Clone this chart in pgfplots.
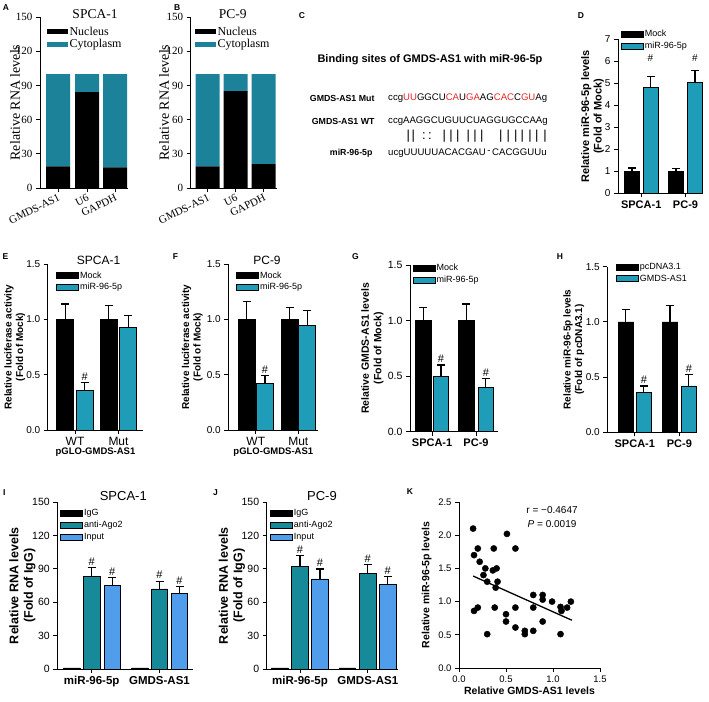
\documentclass[border=0pt]{standalone}
\usepackage{fontspec}
\setmainfont{Liberation Sans}
\newfontfamily\tnr{Liberation Serif}
\usepackage{pgfplots}
\pgfplotsset{compat=1.18}
\definecolor{cyto}{HTML}{1B8299}
\definecolor{mirc}{HTML}{1F9CB8}
\definecolor{agoc}{HTML}{178A9A}
\definecolor{inpc}{HTML}{4F9DEB}
\definecolor{mutred}{HTML}{E8262A}
\newcommand{\fsz}[1]{\fontsize{#1}{#1}\selectfont}
\newcommand{\rd}[1]{\textcolor{mutred}{#1}}
\pgfplotsset{
  panel/.style={scale only axis, anchor=south west, axis lines*=left, clip=false,
    enlargelimits=false, xmin=0, ymin=0,
    axis line style={line width=1pt, black},
    tick style={line width=1pt, black}, tick align=outside,
    major tick length=4pt,
    /pgf/number format/assume math mode=true,
    legend cell align=left},
  ydec/.style={yticklabel style={/pgf/number format/fixed, /pgf/number format/fixed zerofill, /pgf/number format/precision=1}},
  xdec/.style={xticklabel style={/pgf/number format/fixed, /pgf/number format/fixed zerofill, /pgf/number format/precision=1}},
  patch/.style={legend image code/.code={\draw[##1, line width=0.6pt] (0pt,-3pt) rectangle (22pt,3pt);}},
  mybar/.style={ybar, bar shift=0pt, draw=black, line width=0.6pt, patch,
    /pgfplots/error bars/y dir=plus, /pgfplots/error bars/y explicit,
    /pgfplots/error bars/error bar style={line width=1.2pt, black},
    /pgfplots/error bars/error mark options={rotate=90, mark size=4pt, line width=1.2pt, black}},
  hash/.style={only marks, forget plot, black, mark=text, text mark={\#}, text mark as node=true,
    text mark style={anchor=south, inner sep=1pt, font=\fsz{11}}},
  leg/.style 2 args={legend style={at={(#1,#2)}, anchor=north west, draw=none, fill=none,
    inner sep=0pt, row sep=1.5pt, font=\fsz{9}, nodes={inner sep=1.2pt}}},
  ylab/.style 2 args={ylabel style={font=\bfseries\fontsize{#1}{#2}\selectfont, align=center}},
  ypos/.style={ylabel style={at={(axis description cs:#1,0.5)}, anchor=center}},
}
\begin{document}
\begin{tikzpicture}
\path[use as bounding box] (0pt,0pt) rectangle (709pt,-701pt);
\fill[white] (0pt,0pt) rectangle (709pt,-701pt);

% panel letters
\foreach \l/\x/\y in {A/6/7.5, B/177.3/7.5, C/302/15.5, D/581/15.5, E/5.5/257, F/175.5/257, G/355.5/257, H/560/257, I/4.3/493, J/215.5/493, K/410/492}
  \node[font=\bfseries\fsz{8.5}] at (\x pt,-\y pt) {\l};

% ---------- A ----------
\begin{axis}[panel, at={(40pt,-188pt)}, width=88pt, height=171pt, xmax=88, ymax=150,
  ytick={0,30,...,150}, xtick={18,47,75}, xticklabels={GMDS-AS1,U6,GAPDH},
  ybar stacked, bar width=24,
  tick label style={font=\tnr\fsz{11}},
  x tick label style={rotate=26, anchor=north east, inner sep=1pt},
  ylabel={Relative RNA levels}, ylabel style={font=\tnr\fsz{14}}, ypos=-0.284,
  title={SPCA-1}, title style={font=\tnr\fsz{13.5}, at={(0.625,0.98)}, anchor=center},
  legend style={at={(0.08,0.95)}, anchor=north west, draw=none, fill=none, font=\tnr\fsz{12}, inner sep=0pt, nodes={inner sep=1.3pt}},
  legend image code/.code={\fill[#1] (0pt,-2.5pt) rectangle (21pt,2.5pt);}]
\addplot[fill=black, draw=none] coordinates {(18,19) (47,84) (75,18)};
\addplot[fill=cyto, draw=none] coordinates {(18,81) (47,16) (75,82)};
\legend{Nucleus, Cytoplasm}
\end{axis}

% ---------- B ----------
\begin{axis}[panel, at={(190.7pt,-188pt)}, width=86pt, height=171pt, xmax=86, ymax=150,
  ytick={0,30,...,150}, xtick={17,45,73}, xticklabels={GMDS-AS1,U6,GAPDH},
  ybar stacked, bar width=24,
  tick label style={font=\tnr\fsz{11}},
  x tick label style={rotate=26, anchor=north east, inner sep=1pt},
  ylabel={Relative RNA levels}, ylabel style={font=\tnr\fsz{14}}, ypos=-0.31,
  title={PC-9}, title style={font=\tnr\fsz{13.5}, at={(0.49,0.98)}, anchor=center},
  legend style={at={(0.05,0.95)}, anchor=north west, draw=none, fill=none, font=\tnr\fsz{12}, inner sep=0pt, nodes={inner sep=1.3pt}},
  legend image code/.code={\fill[#1] (0pt,-2.5pt) rectangle (21pt,2.5pt);}]
\addplot[fill=black, draw=none] coordinates {(17,19) (45,85) (73,21)};
\addplot[fill=cyto, draw=none] coordinates {(17,81) (45,15) (73,79)};
\legend{Nucleus, Cytoplasm}
\end{axis}

% ---------- C ----------
\node[font=\bfseries\fsz{11}] at (430pt,-60pt) {Binding sites of GMDS-AS1 with miR-96-5p};
\node[anchor=east, font=\bfseries\fsz{8.8}] at (378pt,-98pt) {GMDS-AS1 Mut};
\node[anchor=east, font=\bfseries\fsz{8.8}] at (378pt,-121pt) {GMDS-AS1 WT};
\node[anchor=east, font=\bfseries\fsz{8.8}] at (376pt,-153pt) {miR-96-5p};
\node[anchor=west, font=\fsz{9.6}, inner sep=0pt] at (388pt,-98pt) {ccg\rd{UU}GGCU\rd{CA}U\rd{GA}AG\rd{CAC}C\rd{GU}Ag};
\node[anchor=west, font=\fsz{9.6}, inner sep=0pt] at (388pt,-121pt) {ccgAAGGCUGUUCUAGGUGCCAAg};
\node[anchor=west, font=\fsz{9.6}, inner sep=0pt] at (388pt,-153pt) {ucgUUUUUACACGAU\,\raisebox{1.5pt}{-}\,CACGGUUu};
\foreach \x/\c in {408.3/|, 413.3/|, 424/:, 430/:, 444.3/|, 451/|, 457.7/|, 468.3/|, 475/|, 481.7/|, 500.7/|, 508.3/|, 515.7/|, 522.3/|, 530/|, 536.7/|, 545/|}
  \node[font=\fsz{13}, inner sep=0pt] at (\x pt,-136pt) {\c};

% ---------- D ----------
\begin{axis}[panel, at={(618pt,-193.3pt)}, width=85pt, height=154pt, xmax=85, ymax=7,
  ytick={0,...,7}, xtick={23.2,67.5}, xticklabels={SPCA-1,PC-9}, bar width=15,
  tick label style={font=\fsz{10}}, x tick label style={font=\bfseries\fsz{11}},
  ylabel={Relative miR-96-5p levels\\(Fold of Mock)}, ylab={11}{12.5}, ypos=-0.30, leg={0.035}{1.07}]
\addplot[mybar, fill=black] coordinates {(14,1.0) +- (0,0.15) (58,1.0) +- (0,0.12)};
\addplot[mybar, fill=mirc] coordinates {(32.5,4.8) +- (0,0.5) (77,5.05) +- (0,0.55)};
\addplot[hash, text mark style={anchor=base}] coordinates {(32.5,5.97) (77,5.97)};
\legend{Mock, miR-96-5p}
\end{axis}

% ---------- E ----------
\begin{axis}[panel, ydec, at={(47.7pt,-430pt)}, width=95.6pt, height=165.7pt, xmax=95.6, ymax=1.5,
  ytick={0,0.5,1,1.5}, xtick={27.3,70.8}, xticklabels={WT,Mut}, bar width=17,
  tick label style={font=\fsz{10}}, x tick label style={font=\fsz{12}},
  xlabel={pGLO-GMDS-AS1}, xlabel style={font=\bfseries\fsz{9.5}, inner sep=0pt, yshift=2pt},
  ylabel={Relative luciferase activity\\(Fold of Mock)}, ylab={10}{11.5}, ypos=-0.345,
  title={SPCA-1}, title style={font=\fsz{12}, at={(0.533,0.99)}, anchor=center},
  leg={0.087}{0.965}]
\addplot[mybar, fill=black] coordinates {(17.5,1.0) +- (0,0.14) (61,1.0) +- (0,0.13)};
\addplot[mybar, fill=mirc] coordinates {(37,0.36) +- (0,0.07) (80.5,0.93) +- (0,0.11)};
\addplot[hash] coordinates {(37,0.44)};
\legend{Mock, miR-96-5p}
\end{axis}

% ---------- F ----------
\begin{axis}[panel, ydec, at={(228.3pt,-430pt)}, width=90pt, height=165.7pt, xmax=90, ymax=1.5,
  ytick={0,0.5,1,1.5}, xtick={27.5,70}, xticklabels={WT,Mut}, bar width=17,
  tick label style={font=\fsz{10}}, x tick label style={font=\fsz{12}},
  xlabel={pGLO-GMDS-AS1}, xlabel style={font=\bfseries\fsz{9.5}, inner sep=0pt, yshift=2pt},
  ylabel={Relative luciferase activity\\(Fold of Mock)}, ylab={10}{11.5}, ypos=-0.40,
  title={PC-9}, title style={font=\fsz{12}, at={(0.43,0.99)}, anchor=center},
  leg={0.086}{0.965}]
\addplot[mybar, fill=black] coordinates {(18.4,1.0) +- (0,0.16) (61.2,1.0) +- (0,0.11)};
\addplot[mybar, fill=mirc] coordinates {(36.7,0.42) +- (0,0.07) (78.8,0.95) +- (0,0.13)};
\addplot[hash] coordinates {(36.7,0.50)};
\legend{Mock, miR-96-5p}
\end{axis}

% ---------- G ----------
\begin{axis}[panel, ydec, at={(410pt,-431.7pt)}, width=88.3pt, height=166.7pt, xmax=88.3, ymax=1.5,
  ytick={0,0.5,1,1.5}, xtick={22.1,66}, xticklabels={SPCA-1,PC-9}, bar width=15.5,
  tick label style={font=\fsz{10.5}}, x tick label style={font=\bfseries\fsz{11}},
  ylabel={Relative GMDS-AS1 levels\\(Fold of Mock)}, ylab={10.5}{12.5}, ypos=-0.425, leg={0.03}{1.015}]
\addplot[mybar, fill=black] coordinates {(13.2,1.0) +- (0,0.12) (56.3,1.0) +- (0,0.15)};
\addplot[mybar, fill=mirc] coordinates {(31,0.5) +- (0,0.1) (75.8,0.4) +- (0,0.08)};
\addplot[hash] coordinates {(31,0.61) (75.8,0.49)};
\legend{Mock, miR-96-5p}
\end{axis}

% ---------- H ----------
\begin{axis}[panel, ydec, at={(607.3pt,-432.3pt)}, width=89.4pt, height=165.6pt, xmax=89.4, ymax=1.5,
  ytick={0,0.5,1,1.5}, xtick={27.5,72.1}, xticklabels={SPCA-1,PC-9}, bar width=15.5,
  tick label style={font=\fsz{10}}, x tick label style={font=\bfseries\fsz{11}},
  ylabel={Relative miR-96-5p levels\\(Fold of pcDNA3.1)}, ylab={10}{11.5}, ypos=-0.375, leg={0.097}{1.03}]
\addplot[mybar, fill=black] coordinates {(18.5,1.0) +- (0,0.11) (62.7,1.0) +- (0,0.15)};
\addplot[mybar, fill=mirc] coordinates {(36.5,0.36) +- (0,0.06) (81.5,0.42) +- (0,0.1)};
\addplot[hash] coordinates {(36.5,0.43) (81.5,0.53)};
\legend{pcDNA3.1, GMDS-AS1}
\end{axis}

% ---------- I ----------
\begin{axis}[panel, at={(57.3pt,-669pt)}, width=136pt, height=166.7pt, xmax=136, ymax=150,
  ytick={0,30,...,150}, xtick={34.4,102.2}, xticklabels={miR-96-5p,GMDS-AS1}, bar width=16.5,
  tick label style={font=\fsz{10.5}}, x tick label style={font=\bfseries\fsz{11.5}},
  ylabel={Relative RNA levels\\(Fold of IgG)}, ylab={12.5}{14.5}, ypos=-0.256,
  title={SPCA-1}, title style={font=\fsz{13}, at={(0.485,1.0)}, anchor=center},
  leg={0.02}{0.965}]
\addplot[mybar, fill=black] coordinates {(14.4,1) (82.7,1)};
\addplot[mybar, fill=agoc] coordinates {(34.4,83) +- (0,8) (102.2,72) +- (0,7)};
\addplot[mybar, fill=inpc] coordinates {(55,75) +- (0,7) (122.2,68) +- (0,6)};
\addplot[hash] coordinates {(34.4,92) (55,83) (102.2,80) (122.2,75)};
\legend{IgG, anti-Ago2, Input}
\end{axis}

% ---------- J ----------
\begin{axis}[panel, at={(266.7pt,-669pt)}, width=131.6pt, height=166.7pt, xmax=131.6, ymax=150,
  ytick={0,30,...,150}, xtick={33.3,101.1}, xticklabels={miR-96-5p,GMDS-AS1}, bar width=16.5,
  tick label style={font=\fsz{10.5}}, x tick label style={font=\bfseries\fsz{11.5}},
  ylabel={Relative RNA levels\\(Fold of IgG)}, ylab={12.5}{14.5}, ypos=-0.265,
  title={PC-9}, title style={font=\fsz{13}, at={(0.42,1.0)}, anchor=center},
  leg={0.025}{0.965}]
\addplot[mybar, fill=black] coordinates {(13.3,1) (80.6,1)};
\addplot[mybar, fill=agoc] coordinates {(33.3,92) +- (0,10) (101.1,86) +- (0,8)};
\addplot[mybar, fill=inpc] coordinates {(53.3,81) +- (0,9) (121.1,76) +- (0,7)};
\addplot[hash] coordinates {(33.3,103) (53.3,91) (101.1,95) (121.1,84)};
\legend{IgG, anti-Ago2, Input}
\end{axis}

% ---------- K ----------
\begin{axis}[panel, xdec, ydec, at={(459pt,-668pt)}, width=141pt, height=166pt, xmax=1.5, ymax=2.5,
  xtick={0,0.5,1,1.5}, ytick={0,0.5,1,1.5,2,2.5},
  tick label style={font=\fsz{9.5}},
  xlabel={Relative GMDS-AS1 levels}, xlabel style={font=\bfseries\fsz{10.5}, inner sep=1pt},
  ylabel={Relative miR-96-5p levels}, ylab={10.5}{12.5}, ypos=-0.229]
\addplot[only marks, mark=*, mark size=3.1pt, black] table {
x y
0.15 2.10
0.51 2.02
0.20 1.80
0.37 1.80
0.60 1.80
0.16 1.70
0.22 1.60
0.28 1.50
0.40 1.50
0.36 1.47
0.26 1.40
0.30 1.30
0.41 1.30
0.39 1.21
0.79 1.10
0.89 1.10
0.89 1.03
0.99 1.00
1.08 0.92
1.15 0.91
1.19 1.00
1.09 0.86
0.79 0.91
0.60 0.91
0.38 0.91
0.20 0.91
0.16 0.86
0.50 0.81
0.50 0.70
0.89 0.70
0.60 0.61
0.70 0.56
0.70 0.51
0.79 0.56
0.30 0.51
1.08 0.51
};
\addplot[black, line width=1.3pt, no marks] coordinates {(0.15,1.385) (1.20,0.72)};
\node[font=\fsz{10}] at (axis cs:0.99,2.38) {r = −0.4647};
\node[font=\fsz{10}] at (axis cs:0.99,2.17) {\textit{P} = 0.0019};
\end{axis}
\end{tikzpicture}
\end{document}
